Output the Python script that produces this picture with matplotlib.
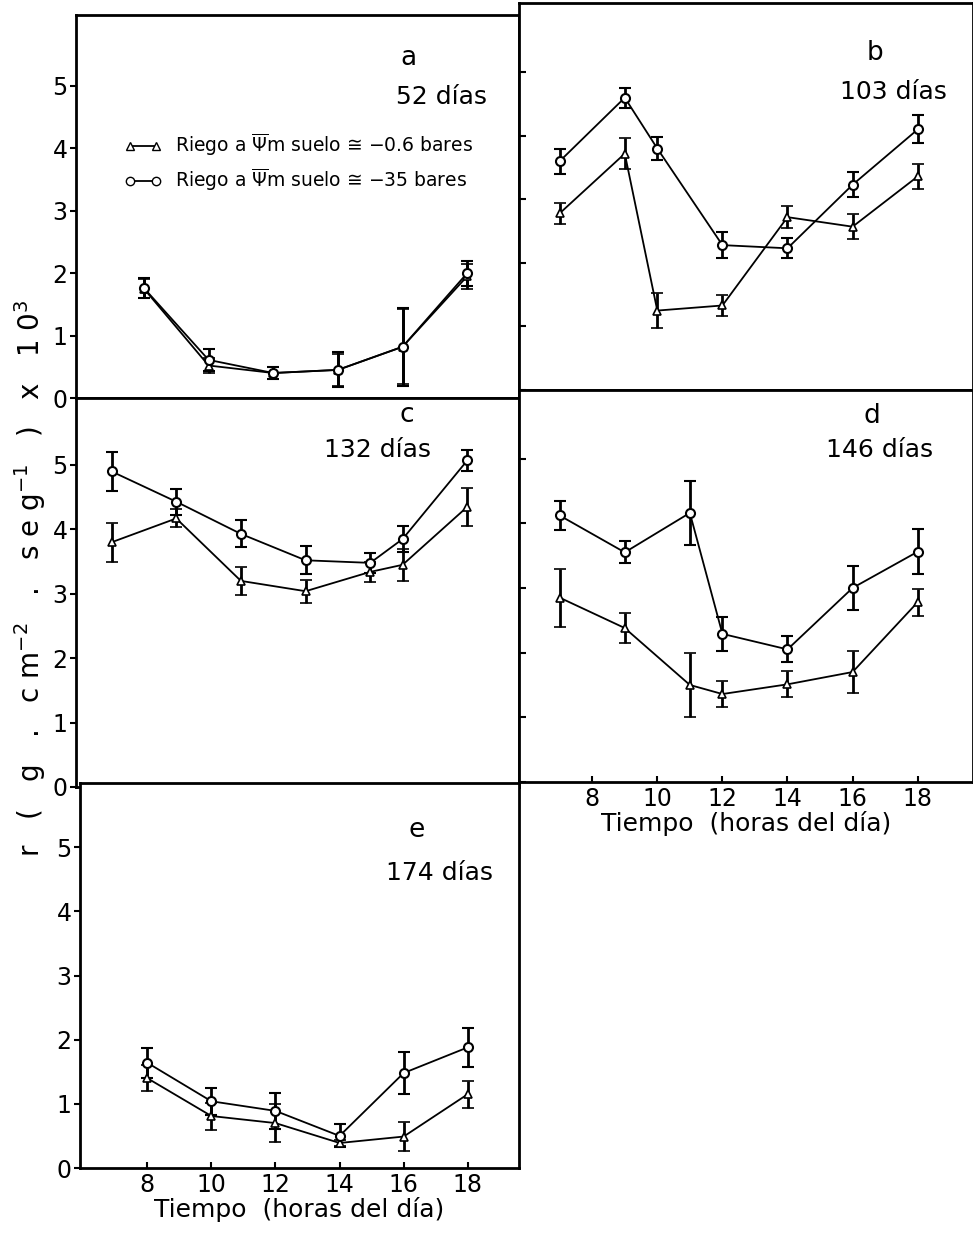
import matplotlib
matplotlib.use("Agg")
import matplotlib.pyplot as plt

plt.rcParams['font.family'] = ['DejaVu Sans']

# ---- datos (horas del día, r x 10^3, error) ----
# a: 52 días
a_h = [8, 10, 12, 14, 16, 18]
a_tri = [1.75, 0.52, 0.40, 0.45, 0.82, 1.95]
a_tri_err = [0.15, 0.12, 0.10, 0.25, 0.60, 0.20]
a_circ = [1.76, 0.61, 0.40, 0.45, 0.82, 2.00]
a_circ_err = [0.16, 0.18, 0.10, 0.28, 0.62, 0.20]

# b: 103 días
b_h = [7, 9, 10, 12, 14, 16, 18]
b_tri = [2.78, 3.72, 1.25, 1.33, 2.72, 2.57, 3.36]
b_tri_err = [0.16, 0.25, 0.27, 0.17, 0.17, 0.20, 0.20]
b_circ = [3.60, 4.60, 3.80, 2.28, 2.23, 3.23, 4.10]
b_circ_err = [0.20, 0.16, 0.18, 0.20, 0.16, 0.20, 0.22]

# c: 132 días
c_h = [7, 9, 11, 13, 15, 16, 18]
c_tri = [3.80, 4.17, 3.20, 3.04, 3.34, 3.45, 4.35]
c_tri_err = [0.30, 0.14, 0.22, 0.18, 0.15, 0.25, 0.29]
c_circ = [4.90, 4.43, 3.93, 3.52, 3.48, 3.85, 5.07]
c_circ_err = [0.30, 0.20, 0.21, 0.22, 0.16, 0.20, 0.17]

# d: 146 días
d_h = [7, 9, 11, 12, 14, 16, 18]
d_tri = [2.85, 2.38, 1.50, 1.36, 1.51, 1.70, 2.78]
d_tri_err = [0.45, 0.23, 0.50, 0.20, 0.20, 0.32, 0.21]
d_circ = [4.12, 3.55, 4.16, 2.29, 2.05, 3.00, 3.56]
d_circ_err = [0.22, 0.17, 0.50, 0.26, 0.20, 0.34, 0.35]

# e: 174 días
e_h = [8, 10, 12, 14, 16, 18]
e_tri = [1.40, 0.81, 0.70, 0.39, 0.49, 1.15]
e_tri_err = [0.20, 0.21, 0.29, 0.05, 0.22, 0.21]
e_circ = [1.64, 1.04, 0.89, 0.50, 1.48, 1.88]
e_circ_err = [0.23, 0.21, 0.28, 0.18, 0.33, 0.30]

x_ticks = [8, 10, 12, 14, 16, 18]
y_ticks = [0, 1, 2, 3, 4, 5]

W, H = 973, 1235
fig = plt.figure(figsize=(W / 100, H / 100), dpi=100)


def rect(x0, y0, x1, y1):
    return [x0 / W, 1 - y1 / H, (x1 - x0) / W, (y1 - y0) / H]


def panel(r, xlim, ylim, h, tri, tri_err, circ, circ_err, letra, dias,
          pos_letra, pos_dias, left=True, xlabels=False):
    ax = fig.add_axes(rect(*r))
    ax.errorbar(h, tri, yerr=tri_err, color='black', lw=1.3, marker='^',
                ms=6, mfc='white', mec='black', mew=1.2, elinewidth=2,
                capsize=4, capthick=2)
    ax.errorbar(h, circ, yerr=circ_err, color='black', lw=1.3, marker='o',
                ms=6.5, mfc='white', mec='black', mew=1.5, elinewidth=2,
                capsize=4, capthick=2)
    ax.plot(h, circ, ls='none', marker='.', ms=2, color='black')
    ax.set_xlim(*xlim)
    ax.set_ylim(*ylim)
    for s in ax.spines.values():
        s.set_linewidth(2)
    ax.set_xticks(x_ticks)
    ax.set_yticks(y_ticks)
    if left:
        ax.tick_params(axis='y', direction='out', length=4, width=1.5,
                       labelsize=17, pad=2)
    else:
        ax.tick_params(axis='y', direction='in', length=5, width=1.5,
                       labelleft=False)
    ax.tick_params(axis='x', direction='in', length=4, width=1.5,
                   labelsize=17, labelbottom=xlabels)
    if not xlabels:
        ax.tick_params(axis='x', length=0)
    fig.text(pos_letra[0] / W, 1 - pos_letra[1] / H, letra, ha='center',
             va='center', fontsize=19)
    fig.text(pos_dias[0] / W, 1 - pos_dias[1] / H, dias, ha='center',
             va='center', fontsize=18)
    if xlabels:
        ax.set_xlabel('Tiempo  (horas del día)', fontsize=18, labelpad=0)
    return ax


ax_a = panel((76, 15, 519, 398), (5.9, 19.6), (0, 6.13), a_h, a_tri, a_tri_err,
             a_circ, a_circ_err, 'a', '52 días', (408, 58), (442, 97))
ax_b = panel((519, 3, 973, 390), (5.75, 19.7), (0, 6.09), b_h, b_tri, b_tri_err,
             b_circ, b_circ_err, 'b', '103 días', (875, 53), (893, 92),
             left=False)
ax_c = panel((76, 398, 519, 787), (5.9, 19.6), (0, 6.04), c_h, c_tri, c_tri_err,
             c_circ, c_circ_err, 'c', '132 días', (407, 415), (378, 450))
ax_d = panel((519, 390, 973, 782), (5.75, 19.7), (0, 6.06), d_h, d_tri, d_tri_err,
             d_circ, d_circ_err, 'd', '146 días', (872, 416), (880, 450),
             left=False, xlabels=True)
ax_e = panel((80, 783, 519, 1168), (5.9, 19.6), (0, 6.0), e_h, e_tri, e_tri_err,
             e_circ, e_circ_err, 'e', '174 días', (417, 830), (440, 873),
             xlabels=True)

# leyenda
h1 = ax_a.errorbar([], [], color='black', lw=1.3, marker='^', ms=6,
                   mfc='white', mec='black')
h2 = ax_a.errorbar([], [], color='black', lw=1.3, marker='o', ms=6,
                   mfc='white', mec='black')
ax_a.legend([h1, h2],
            [r'Riego a $\overline{\Psi}$m suelo ≅ −0.6 bares',
             r'Riego a $\overline{\Psi}$m suelo ≅ −35 bares'],
            loc='upper left', bbox_to_anchor=(0.07, 0.74), frameon=False,
            fontsize=13.5, numpoints=2, handlelength=2.0, labelspacing=0.45,
            handletextpad=0.7)

fig.text(30 / W, 1 - 578 / H,
         r'r   (   g   .   c m$^{-2}$   .   s e g$^{-1}$   )   x   1 0$^{3}$',
         rotation=90, ha='center', va='center', fontsize=20)

fig.savefig('out.png', dpi=100)
